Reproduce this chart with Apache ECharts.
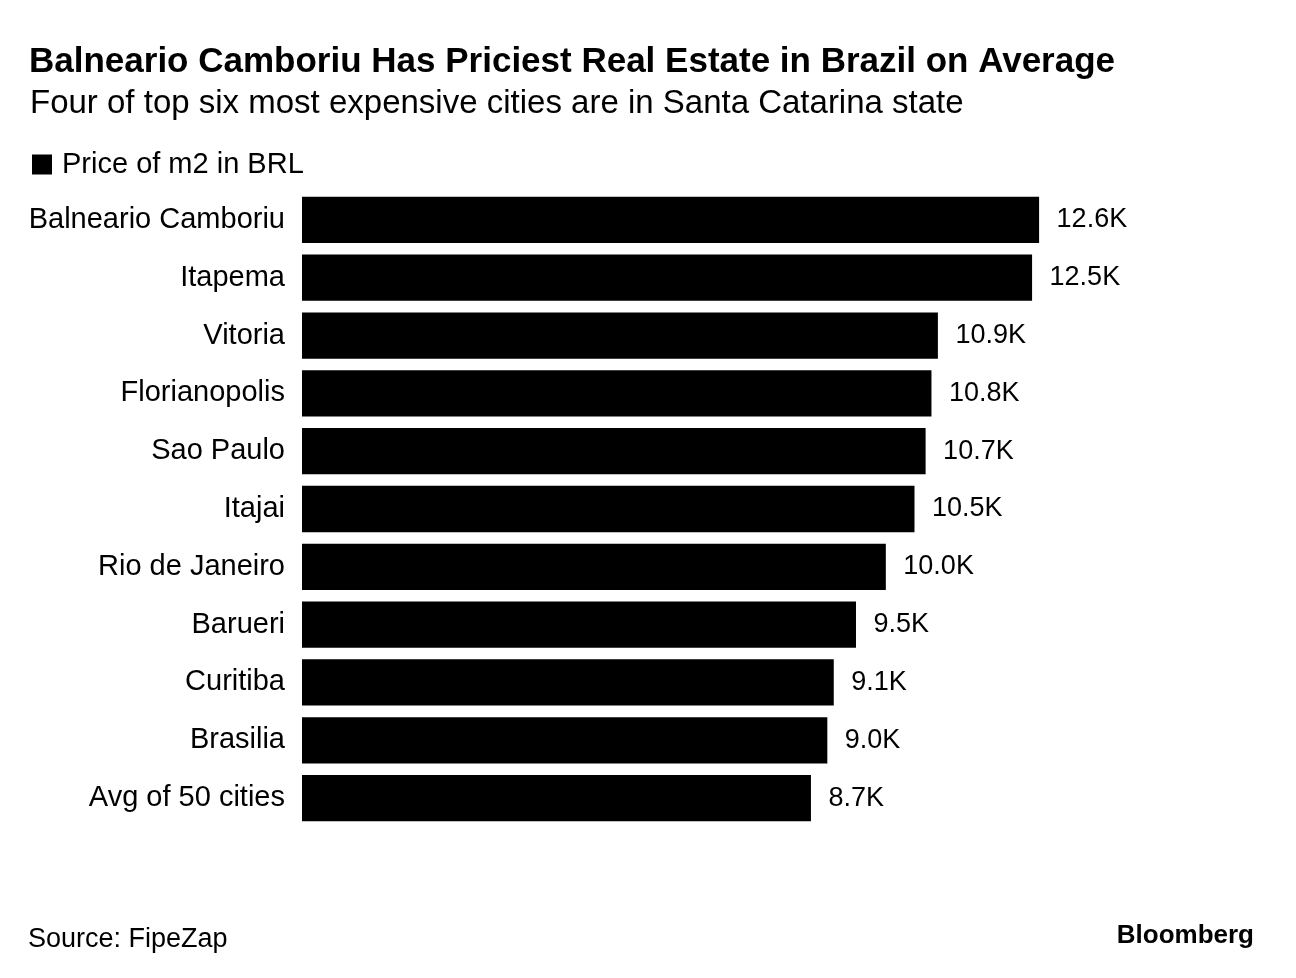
<!DOCTYPE html>
<html>
<head>
<meta charset="utf-8">
<script src="https://cdn.jsdelivr.net/npm/echarts@6/dist/echarts.min.js"></script>
<style>
html,body{margin:0;padding:0;background:#fff;}
#chart{width:1296px;height:978px;}
</style>
</head>
<body>
<div id="chart"></div>
<script>
const categories = ["Balneario Camboriu","Itapema","Vitoria","Florianopolis","Sao Paulo","Itajai","Rio de Janeiro","Barueri","Curitiba","Brasilia","Avg of 50 cities"];
const prices = [12600,12480,10870,10760,10660,10470,9980,9470,9090,8980,8700];
const seriesName = "Price of m2 in BRL";
const FONT = "'Liberation Sans', Arial, Helvetica, sans-serif";

const chart = echarts.init(document.getElementById('chart'));
chart.setOption({
  animation:false,
  backgroundColor:'#fff',
  title:[
    {text:"Balneario Camboriu Has Priciest Real Estate in Brazil on Average",left:24,top:40,
     textStyle:{fontFamily:FONT,fontSize:35,fontWeight:'bold',color:'#000'}},
    {text:"Four of top six most expensive cities are in Santa Catarina state",left:25,top:82,
     textStyle:{fontFamily:FONT,fontSize:33,fontWeight:'normal',color:'#000'}},
    {text:"Source: FipeZap",left:23,top:921,
     textStyle:{fontFamily:FONT,fontSize:27,fontWeight:'normal',color:'#000'}},
    {text:"Bloomberg",right:37,top:918,
     textStyle:{fontFamily:FONT,fontSize:26,fontWeight:'bold',color:'#000'}}
  ],
  legend:{show:true,left:27,top:145,icon:'rect',itemWidth:20,itemHeight:20,itemGap:10,
    data:[seriesName],
    textStyle:{fontFamily:FONT,fontSize:29,color:'#000',padding:[0,0,0,5]}},
  grid:{left:302,top:191,width:877.5,height:636,containLabel:false},
  xAxis:{type:'value',min:0,max:15000,show:false},
  yAxis:{type:'category',data:categories,inverse:true,
    axisLine:{show:false},axisTick:{show:false},
    axisLabel:{fontFamily:FONT,fontSize:29,color:'#000',margin:17}},
  series:[{
    name:seriesName,type:'bar',data:prices,barCategoryGap:'20%',
    itemStyle:{color:'#000'},
    label:{show:true,position:'right',distance:17.5,fontFamily:FONT,fontSize:27,color:'#000',
      formatter:p=>(p.value/1000).toFixed(1)+'K'}
  }]
});
</script>
</body>
</html>
